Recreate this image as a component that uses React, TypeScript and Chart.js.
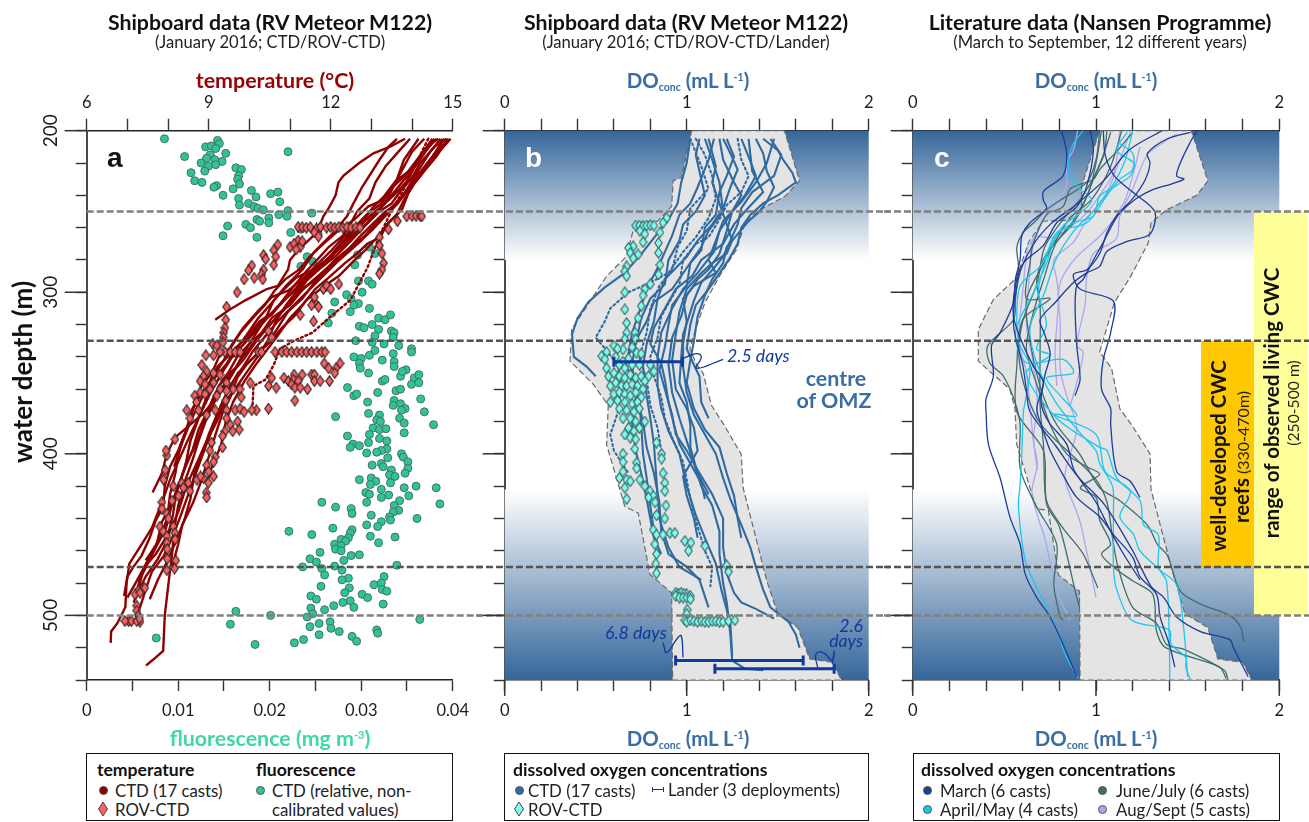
import React, { useEffect, useRef } from "react";
import { Chart, registerables } from "chart.js";

Chart.register(...registerables);

// ---------- axis ticks ----------
const depthMajor = [200, 300, 400, 500];
const tempLabels = [6, 9, 12, 15];
const fluoLabels = [0, 0.01, 0.02, 0.03, 0.04];
const doLabels = [0, 1, 2];

// ---------- reference depths (m) ----------
const refLinesGrey = [250, 500];
const refLinesDark = [330, 470];

// ---------- panel a: fluorescence [value, depth] ----------
const fluorescence = [
  [.0085,205],[.0143,206],[.0145,208],[.0130,210],[.0136,209.5],[.0141,211],[.0107,216],[.0152,214],[.0220,213],[.0135,215],
  [.0131,217],[.0125,220],[.0133,222],[.0140,218],[.0148,219],[.0141,221],[.0129,225],[.0114,226],[.0118,231],[.0126,232],
  [.0163,223],[.0169,224],[.0166,228],[.0165,230],[.0167,233],[.0142,234],[.0139,235],[.0160,236],[.0149,240],[.0180,237],
  [.0185,241],[.0201,239],[.0209,238],[.0211,244],[.0166,242],[.0167,246],[.0177,245],[.0183,247],[.0187,248],[.0193,249],
  [.0220,249.5],[.0210,252],[.0219,253],[.0246,251],[.0199,254],[.0199,257],[.0186,255],[.0189,256],[.0174,258],[.0179,260],
  [.0154,259],[.0149,265],[.0186,266],[.0223,263],[.0234,261],[.0253,264],[.0309,272],[.0315,276],[.0296,277],[.0241,278],
  [.0234,284],[.0247,281],[.0293,283],[.0308,293],[.0312,295],[.0297,293],[.0301,300],[.0284,301.5],[.0289,304],[.0297,307],
  [.0292,308],[.0288,312],[.0309,310],[.0271,306],[.0268,313],[.0264,319],[.0319,316],[.0326,317],[.0332,314],[.0312,320],
  [.0319,323],[.0298,321],[.0303,322],[.0333,324],[.0336,325],[.0335,328],[.0315,327],[.0312,331],[.0325,332],[.0341,333],
  [.0294,330],[.0355,335],[.0355,337],[.0292,340],[.0300,341],[.0309,339],[.0315,336],[.0323,342],[.0298,344],[.0299,347],
  [.0335,338],[.0336,343],[.0336,346],[.0308,350],[.0349,348],[.0343,352],[.0345,349],[.0358,353],[.0363,351],[.0363,356],
  [.0355,357],[.0323,355],[.0326,354],[.0285,359],[.0292,364],[.0295,363],[.0318,362],[.0338,361],[.0343,360],[.0307,368],
  [.0336,367],[.0335,370],[.0343,369],[.0348,372],[.0344,373],[.0365,366],[.0369,374],[.0379,382],[.0308,375],[.0320,376],
  [.0272,377],[.0342,378],[.0347,381],[.0317,379],[.0321,380],[.0313,384],[.0320,385],[.0327,384.5],[.0347,387],[.0309,388],
  [.0285,389],[.0320,390.5],[.0328,392],[.0308,393],[.0291,394],[.0298,395],[.0288,396],[.0328,397],[.0322,398],[.0317,399],
  [.0306,399.5],[.0344,400],[.0346,402],[.0329,402.5],[.0351,405],[.0312,407],[.0322,406],[.0324,408],[.0333,410],[.0351,409],
  [.0348,412],[.0331,413],[.0337,414],[.0298,416],[.0311,415],[.0316,417],[.0310,419],[.0332,418],[.0347,421],[.0360,420],
  [.0382,421],[.0322,422],[.0305,424],[.0309,425],[.0330,425.5],[.0322,427],[.0352,426],[.0342,429],[.0306,430],[.0257,430],
  [.0386,431],[.0336,432],[.0272,433],[.0289,434],[.0290,437],[.0341,435],[.0335,436],[.0311,438],[.0331,439],[.0332,441],
  [.0361,440],[.0322,442],[.0306,444],[.0318,445],[.0269,446],[.0290,447],[.0221,448],[.0246,450],[.0288,449],[.0310,451],
  [.0286,452],[.0337,451.5],[.0278,453],[.0283,454],[.0319,455],[.0271,456],[.0278,457],[.0272,459],[.0278,460],[.0255,461],
  [.0289,463],[.0298,462.5],[.0244,465],[.0281,466],[.0251,467],[.0339,469],[.0236,470],[.0271,469.5],[.0257,471],[.0279,472],
  [.0260,475],[.0325,476],[.0286,477],[.0279,478],[.0314,481],[.0322,480],[.0256,482],[.0287,483],[.0323,484],[.0328,485],
  [.0282,486],[.0245,488],[.0301,487],[.0307,489],[.0251,490],[.0288,491],[.0280,492],[.0324,493],[.0270,494],[.0292,495],
  [.0245,495.5],[.0260,496.5],[.0163,497.5],[.0247,499],[.0201,500],[.0241,501],[.0364,502.5],[.0266,504],[.0254,505],[.0157,505.5],
  [.0244,507],[.0267,508],[.0317,509],[.0318,511],[.0276,510],[.0254,512],[.0290,513],[.0076,514],[.0295,516],[.0237,515],
  [.0227,517],[.0184,518],
];

// ---------- panel a: ROV-CTD temperature [value, depth] ----------
const rovTemperature = [
  [13.87,253],[14.0,252.7],[14.1,252.7],[14.2,252.7],[14.24,253],[13.64,256],
  [11.2,259.6],[11.3,259.8],[11.4,260],[11.5,259.8],[11.65,260.5],[11.75,259.5],[11.9,260],[12.0,259.6],[12.1,260],[12.2,259.7],[12.3,260],[12.4,259.6],[12.5,260],[12.62,259.8],[12.72,260],
  [13.42,261],[13.2,266],[13.2,271],[13.26,276],[13.3,282],[13.26,286],[13.2,288.5],[11.6,263],[11.7,265.5],
  [11.2,268],[11.0,272],[11.25,272],[11.1,270],[11.3,268.5],[11.15,273.5],[10.7,270.5],[10.6,274],[10.35,277],[10.4,279.5],[10.65,278],[10.6,283],[10.06,283.5],[9.98,286.5],[9.87,292],[10.12,291],[10.35,286],[10.3,289],[10.33,292],[9.7,300],[9.44,309],[9.42,317],[9.4,322],[9.37,325],[9.36,328],[9.1,332],[9.2,333],[9.35,331],
  [11.82,298],[11.9,296],[12.2,295],[12.0,298],[11.6,306],[11.53,308],[11.7,309],[11.6,303],[11.25,314],[11.58,318],[10.47,324],[10.55,328],
  [9.4,337],[9.53,337],[9.65,337],[9.77,337],[10.22,337],[10.3,337],[10.63,337],[10.8,337],[10.92,337],[11.04,337],[11.17,337],[11.29,337],[11.41,337],[11.53,337],[11.66,337],[11.78,337],[11.86,337],
  [11.84,344],[11.95,347],[12.23,344],[12.13,347],[12.1,350],[11.1,351],[11.3,351],[11.53,351],[11.6,351],[11.6,355],[11.74,355],[11.97,355],
  [10.85,353],[10.96,355],[11.08,354],[11.2,355],[11.04,357],[11.12,359],[11.25,359],[11.43,360],[11.12,367],[10.55,353],[10.47,358],[10.66,359],[10.02,356],
  [8.93,339],[8.83,345],[9.12,339],[9.28,337],[8.95,349],[9.12,350],[9.28,351],[8.87,352],[8.79,355],[8.91,357],[9.12,356],[9.44,356],[9.6,360],[9.77,360],[9.28,360],[9.03,360],[9.2,364],[9.44,361],[8.79,362],[8.66,364],[8.91,363],[8.7,368],[8.46,373],[8.54,378],[8.75,373],[8.95,376],[9.16,373],[9.42,367],[9.44,373],[9.65,373],[9.8,365],[9.77,372],[9.87,374],[10.17,373],[10.06,373],[10.47,372],
  [9.44,378],[9.71,380],[9.53,382],[9.4,386],[9.34,389],[9.59,386],[9.75,385],[9.34,396],[9.07,393],[9.03,398],[9.16,402],[9.12,405],[8.95,407],[9.0,411],[9.12,414],[8.87,415],[8.71,416],[8.8,414],[8.99,418],[8.94,424],[8.95,427],
  [7.97,401],[7.95,398],[8.17,391],[7.93,410],[7.89,416],[7.85,430],[7.85,434],
  [8.34,418],[8.5,418],[8.38,421],[8.54,423],[8.13,420],[8.26,426],[8.1,429],[7.97,437],[8.01,440],[7.8,445],[7.88,448],[8.13,445],[8.17,449],[7.97,451],[8.17,453],[7.97,455],[7.98,459],[7.98,465],[8.19,466],[8.16,471],[7.97,472],
  [7.35,484],[7.27,484.5],[7.43,483],[7.19,487],[7.31,486],[7.23,494],[7.23,497],[7.27,500],[7.31,504],[7.03,503.5],[7.1,503.5],[7.23,503.5],[6.94,503.5],[7.3,502],
];

// ---------- panel a: CTD temperature casts [value, depth] ----------
const tempCast01 = [[14.9,205],[14.62,213],[14.35,222],[14.1,230],[13.78,240],[13.45,250],[13.1,258],[12.85,265],[12.4,274],[12.05,282],[11.55,293],[11.2,301],[10.85,311],[10.5,320],[10.15,331],[9.85,342],[9.5,352],[9.2,365],[8.95,378],[8.75,392],[8.6,404],[8.4,418],[8.25,432],[8.15,447],[8.1,462],[8.05,472],[7.98,487],[7.92,500],[7.88,522],[7.7,526],[7.46,531]];
const tempCast02 = [[14.55,205],[14.3,214],[14.02,224],[13.72,233],[13.4,243],[13.05,253],[12.7,262],[12.3,271],[11.9,280],[11.45,289],[11.05,300],[10.65,310],[10.3,320],[9.9,331],[9.55,341],[9.3,351],[9.05,362],[8.8,375],[8.55,388],[8.3,402],[8.05,416],[7.85,430],[7.6,446],[7.3,458],[7.05,468],[6.98,480],[6.95,495],[6.75,505],[6.6,510],[6.59,517]];
const tempCast03 = [[14.8,205],[14.5,216],[14.25,224],[13.95,235],[13.65,245],[13.3,254],[13.0,262],[12.6,271],[12.25,279],[11.85,289],[11.45,299],[11.05,309],[10.7,318],[10.4,327],[10.1,336],[9.85,346],[9.55,357],[9.3,370],[9.1,384],[8.9,397],[8.7,411],[8.5,425],[8.3,439],[8.1,452],[7.9,463],[7.6,473],[7.45,484],[7.3,496]];
const tempCast04 = [[14.95,205],[14.7,212],[14.42,221],[14.2,228],[13.9,237],[13.55,246],[13.3,252],[12.95,262],[12.75,268],[12.3,278],[11.95,285],[11.6,294],[11.3,304],[10.95,312],[10.65,324],[10.35,334],[10.0,343],[9.72,350],[9.45,362],[9.2,376],[9.0,388],[8.85,400],[8.65,412],[8.55,428],[8.4,441],[8.18,455],[7.95,468],[7.75,478],[7.55,490]];
const tempCast05 = [[13.83,205],[13.45,210],[13.05,214],[12.7,220],[12.31,228],[12.19,232],[12.12,240],[11.95,248],[11.82,253],[11.66,263],[11.2,274],[11.0,280],[10.95,286],[10.7,296],[10.43,298],[9.9,305],[9.5,311],[9.16,317]];
const tempCast06 = [[13.63,205],[13.42,210],[13.2,218],[12.77,235],[12.56,245],[12.4,253],[12.07,263],[11.6,275],[11.3,286],[10.9,296],[10.6,305],[10.4,316],[10.1,328],[9.85,338],[9.6,350],[9.35,360],[8.87,375],[8.17,390],[7.97,400],[7.85,412],[7.62,424]];
const tempCast07 = [[14.16,205],[13.8,218],[13.63,230],[13.38,243],[13.1,251],[12.56,261],[11.9,280],[11.5,290],[11.2,298],[10.9,308],[10.65,318],[10.45,330],[10.2,340],[9.95,349],[9.7,358],[9.4,368],[9.2,380],[8.95,392],[8.72,405],[8.45,420],[8.25,436],[8.02,449],[7.7,462],[7.42,470],[7.2,480],[7.0,489]];
const tempCast08 = [[14.4,205],[14.1,220],[13.8,236],[13.45,252],[13.2,265],[12.9,285],[12.48,305],[12.0,315],[11.55,325],[11.1,330],[10.75,335],[10.6,345],[10.4,354],[10.1,358],[10.08,370]];
const tempCast09 = [[14.7,205],[14.45,213],[14.12,226],[13.88,236],[13.6,246],[13.35,250],[13.1,256],[12.7,266],[12.45,273],[12.1,280],[11.7,291],[11.35,297],[11.0,308],[10.55,316],[10.3,325],[10.0,332],[9.7,340],[9.5,349],[9.25,358],[9.0,372],[8.75,385],[8.6,398],[8.4,410],[8.2,424],[8.12,438],[7.95,455],[7.75,465],[7.45,476],[7.15,492]];
const tempCast10 = [[14.85,205],[14.55,210],[14.2,220],[14.0,229],[13.7,238],[13.5,245],[13.2,250],[12.8,260],[12.5,268],[12.15,277],[11.75,285],[11.4,293],[11.15,302],[10.75,313],[10.45,322],[10.15,330],[9.9,338],[9.65,347],[9.35,354],[9.1,366],[8.88,380],[8.68,395],[8.45,405],[8.3,417],[8.1,431],[7.95,446],[7.7,458],[7.5,468],[7.3,478],[7.2,490]];
const tempCast11 = [[14.6,205],[14.35,212],[14.08,222],[13.85,232],[13.55,240],[13.2,248],[12.9,254],[12.6,263],[12.25,270],[11.98,278],[11.55,287],[11.25,296],[10.9,304],[10.6,312],[10.25,318],[9.95,327],[9.65,335],[9.45,344],[9.15,353],[8.95,365],[8.75,378],[8.55,392],[8.42,408],[8.25,420],[8.05,433],[7.85,442],[7.72,456],[7.45,466]];
const tempCast12 = [[14.75,205],[14.48,219],[14.15,227],[13.92,238],[13.75,249],[13.42,257],[13.15,266],[12.85,274],[12.55,281],[12.2,290],[11.85,296],[11.4,305],[11.1,315],[10.8,322],[10.5,331],[10.2,338],[9.95,344],[9.7,353],[9.55,364],[9.35,374],[9.18,387],[9.0,402],[8.8,418],[8.62,430],[8.35,444],[8.25,456],[8.1,470]];
const tempCast13 = [[14.5,205],[14.2,216],[13.98,224],[13.6,231],[13.3,241],[13.02,248],[12.75,257],[12.35,265],[12.02,274],[11.7,282],[11.3,292],[10.95,299],[10.55,303],[10.2,312],[9.85,322],[9.58,332],[9.35,343],[9.12,352],[8.9,360],[8.6,372],[8.45,385],[8.25,398],[8.05,408],[7.92,420],[7.88,433],[7.7,441],[7.55,452],[7.35,463],[7.15,470],[7.0,476],[6.92,488]];
const tempCast14 = [[13.95,205],[13.7,212],[13.35,222],[13.1,232],[12.95,242],[12.65,250],[12.5,257],[12.3,265],[11.95,272],[11.7,279],[11.4,287],[11.1,296],[10.85,304],[10.55,314],[10.3,318],[10.05,326],[9.85,332]];
const tempCast15 = [[14.3,205],[14.0,213],[13.72,226],[13.48,237],[13.25,245],[12.88,252],[12.62,259],[12.35,270],[12.1,276],[11.85,283],[11.4,288],[11.15,291],[10.78,300],[10.5,308],[10.22,316],[10.0,324],[9.75,333],[9.5,339],[9.22,346],[9.05,354],[8.8,367],[8.55,380],[8.35,393],[8.15,408]];
const tempCast16 = [[14.88,205],[14.6,216],[14.3,225],[14.05,233],[13.8,243],[13.62,252],[13.38,258],[13.22,266],[12.9,270],[12.65,276],[12.35,282],[11.95,291],[11.62,298],[11.3,308],[11.0,316],[10.72,326],[10.42,336],[10.15,345],[9.88,355],[9.6,368],[9.42,380],[9.3,395],[9.08,408],[8.95,418]];
const tempCast17 = [[14.65,205],[14.4,209],[14.15,217],[13.82,228],[13.52,235],[13.28,243],[12.92,247],[12.58,255],[12.18,262],[11.82,270],[11.48,278],[11.22,286],[10.88,292],[10.62,299],[10.38,308],[10.12,315],[9.78,325],[9.55,334],[9.25,340],[9.08,350],[8.82,358],[8.65,370],[8.48,383],[8.3,395],[8.18,412],[8.05,425],[7.98,440],[7.8,452],[7.62,460],[7.4,471],[7.28,483]];
const tempCasts = [tempCast01,tempCast02,tempCast03,tempCast04,tempCast05,tempCast06,tempCast07,tempCast08,tempCast09,tempCast10,tempCast11,tempCast12,tempCast13,tempCast14,tempCast15,tempCast16,tempCast17];
const dottedTempCasts = [tempCast08];

// ---------- panel b: envelope [DO, depth] ----------
const envelopeB = [[1.027,200],[1.537,200],[1.62,231],[1.54,240.6],[1.384,250],[1.32,257],[1.274,273.5],[1.18,290],[1.10,306.5],[1.054,321],[1.017,335],[1.054,344.6],[1.09,350],[1.136,370],[1.21,383],[1.30,400.4],[1.31,421],[1.44,478.6],[1.50,499],[1.61,507.5],[1.676,527],[1.80,529],[1.85,540],[.923,540],[.917,486],[.798,474.6],[.734,436.7],[.66,432.6],[.56,394.4],[.569,370],[.487,357],[.359,342.6],[.368,323],[.44,310.6],[.56,290],[.67,277.7],[.716,257],[.84,256],[.917,246.8],[.926,231],[.972,229],[1.027,200]];
const envelopeC = [[1.02,200],[1.52,200],[1.61,231],[1.55,240],[1.385,249],[1.30,257],[1.285,269.5],[1.19,290],[1.10,306.5],[1.02,337],[1.085,347],[1.13,372],[1.2,383],[1.295,400],[1.30,422],[1.41,470],[1.485,499],[1.61,507.5],[1.665,527],[1.80,529],[1.85,540],[.913,540],[.91,485],[.795,475],[.74,435],[.675,434],[.567,394],[.558,372],[.53,360],[.358,342.6],[.358,323],[.44,304.5],[.567,291],[.632,269],[.713,256],[.84,255.5],[.922,248],[.922,234],[1.02,200]];

// ---------- panel b: CTD oxygen casts [DO, depth] ----------
const doCast01 = [[1.42,205],[1.5,212],[1.53,218],[1.58,226],[1.6,232],[1.5,240],[1.42,245],[1.35,252],[1.3,260],[1.28,270],[1.23,280],[1.17,290],[1.12,298],[1.05,308],[1.02,320],[1.0,335],[1.04,345],[1.07,352],[1.08,368],[1.12,378]];
const doCast02 = [[1.02,205],[1.0,220],[.97,232],[.95,245],[.9,255],[.85,262],[.76,275],[.66,288],[.55,297],[.46,306],[.40,316],[.37,326],[.38,340],[.45,346],[.50,352]];
const doCast03 = [[1.05,205],[1.1,215],[1.14,228],[1.16,242],[1.12,254],[1.05,266],[.98,275],[.9,288],[.8,294],[.68,300],[.58,310],[.55,318],[.5,328],[.56,336],[.62,345],[.64,360],[.62,375],[.58,388],[.6,398],[.68,412]];
const doCast04 = [[1.1,205],[1.14,218],[1.18,232],[1.2,250],[1.12,262],[1.08,272],[1.0,285],[.92,298],[.82,306],[.78,318],[.72,330],[.7,345],[.72,362],[.76,380],[.78,396],[.82,412],[.85,430],[.86,448],[.9,462],[1.0,470],[1.07,478],[1.12,495]];
const doCast05 = [[1.18,205],[1.2,218],[1.26,232],[1.3,240],[1.24,252],[1.18,262],[1.15,275],[1.06,288],[.98,298],[.92,310],[.86,325],[.84,340],[.84,358],[.86,372],[.9,386],[.96,400],[1.0,420],[1.05,438],[1.1,452],[1.16,468],[1.19,484],[1.24,505],[1.25,525]];
const doCast06 = [[1.3,205],[1.34,216],[1.38,228],[1.32,240],[1.25,250],[1.22,262],[1.18,276],[1.12,286],[1.06,292],[1.0,302],[.97,315],[.92,328],[.9,345],[.92,362],[.96,378],[1.0,392],[1.04,406],[1.08,420],[1.14,432],[1.18,448],[1.18,462],[1.2,480],[1.22,492],[1.24,512],[1.25,528],[1.32,533],[1.42,534]];
const doCast07 = [[1.38,205],[1.42,214],[1.44,225],[1.48,235],[1.44,244],[1.4,250],[1.34,256],[1.28,264],[1.22,272],[1.2,282],[1.14,292],[1.1,302],[1.06,315],[1.04,330],[1.02,342],[1.0,356],[1.04,372],[1.1,385],[1.18,396],[1.22,412],[1.26,426],[1.28,440],[1.3,452]];
const doCast08 = [[1.2,205],[1.24,214],[1.28,224],[1.24,235],[1.2,248],[1.14,258],[1.06,268],[1.0,278],[.94,285],[.88,292],[.84,304],[.82,318],[.78,332],[.76,346],[.78,364],[.8,378],[.82,394],[.83,410],[.84,425],[.85,440],[.9,458],[.96,470],[1.02,474],[1.08,478]];
const doCast09 = [[1.28,205],[1.3,218],[1.34,228],[1.3,238],[1.22,246],[1.18,255],[1.12,266],[1.05,270],[.98,280],[.96,295],[.92,303],[.86,315],[.84,328],[.8,340],[.82,352],[.86,365],[.88,378],[.92,390],[.98,405],[1.0,416],[1.02,428],[1.06,445],[1.1,460],[1.14,470],[1.13,482]];
const doCast10 = [[1.07,205],[1.05,215],[1.08,230],[1.1,240],[1.05,250],[.98,258],[.96,268],[.9,280],[.88,295],[.8,304],[.75,316],[.72,332],[.66,342],[.7,355],[.74,368],[.75,382],[.76,400],[.78,415],[.8,432],[.82,448],[.84,456]];
const doCast11 = [[1.12,205],[1.16,222],[1.14,232],[1.18,245],[1.22,258],[1.25,268],[1.22,276],[1.14,282],[1.08,288],[1.0,298],[.96,312],[.94,326],[.92,342],[.94,360],[1.0,372],[1.04,384],[1.06,398],[1.02,406],[.98,414],[1.0,426],[1.04,440],[1.06,452]];
const doCast12 = [[1.48,205],[1.44,220],[1.38,232],[1.3,244],[1.2,256],[1.16,268],[1.12,280],[1.16,288],[1.04,296],[.98,304],[1.0,318],[.98,332],[.98,346],[1.0,362],[1.04,376],[1.1,388],[1.16,400],[1.2,415],[1.24,428],[1.3,444],[1.35,458],[1.38,470],[1.42,484],[1.46,495],[1.56,504],[1.6,512],[1.62,520]];
const doCast13 = [[1.15,205],[1.12,218],[1.06,235],[1.02,245],[.96,252],[.92,265],[.88,275],[.84,285],[.78,298],[.74,312],[.7,325],[.68,338],[.7,350],[.72,365],[.7,382],[.72,398],[.75,412],[.78,428],[.8,440],[.82,452],[.86,462]];
const doCast14 = [[1.22,205],[1.26,216],[1.22,228],[1.18,238],[1.16,252],[1.1,260],[1.08,274],[1.02,282],[1.0,296],[.92,308],[.9,320],[.88,334],[.85,348],[.88,360],[.92,376],[.94,388],[1.0,398],[1.06,410],[1.14,425],[1.2,440],[1.2,458],[1.22,474],[1.26,486],[1.3,492],[1.38,496],[1.48,502]];
const doCast15 = [[1.34,205],[1.36,225],[1.42,238],[1.32,250],[1.26,258],[1.2,270],[1.08,280],[1.03,290],[.94,298],[.88,310],[.82,322],[.8,332],[.86,344],[.88,354],[.9,368],[.93,382],[.96,394],[1.03,408],[1.08,418],[1.1,428]];
const doCast16 = [[1.02,205],[1.08,222],[1.12,236],[1.02,248],[1.0,262],[.95,272],[.92,286],[.85,296],[.8,310],[.78,325],[.74,340],[.78,354],[.8,370],[.84,384],[.86,398]];
const doCast17 = [[1.46,205],[1.52,215],[1.48,228],[1.36,238],[1.3,248],[1.28,258],[1.24,268],[1.2,278],[1.15,285],[1.08,294],[1.04,305],[1.01,316],[.98,326],[.97,340],[.96,356],[1.0,368],[1.02,382],[1.02,396],[1.06,412],[1.12,425]];
const doCasts = [doCast01,doCast02,doCast03,doCast04,doCast05,doCast06,doCast07,doCast08,doCast09,doCast10,doCast11,doCast12,doCast13,doCast14,doCast15,doCast16,doCast17];
const dottedDoCasts = [doCast03, doCast09, doCast16];

// ---------- panel b: ROV-CTD oxygen [DO, depth] ----------
const rovOxygen = [
  [.72,258.7],[.74,258.7],[.76,259],[.78,258.7],[.80,258.5],[.82,258.7],[.89,254],[.87,257],[.853,263],[.845,269.5],[.845,275.6],[.853,283],[.845,289],[.80,295],[.77,298],[.76,302],[.75,308.5],
  [.743,262],[.77,264],[.76,269],[.706,271.5],[.68,272.5],[.69,275.6],[.733,276.6],[.706,279],[.67,284],[.66,287],[.67,290],[.66,300],[.66,310.6],[.67,319],[.733,316],[.716,325],[.67,325],[.66,329],
  [.533,339.5],[.56,337],[.56,347],[.55,341.5],[.6,333],[.65,335.4],[.725,337.4],[.75,338],[.68,341],[.65,343],[.62,335],[.7,334],[.72,329],[.61,340],[.63,345],[.66,347],[.7,345],[.74,345],[.8,345],[.82,349],[.79,352],
  [.57,352],[.6,350],[.63,352],[.66,353],[.69,351],[.72,353],[.75,352],[.77,355],[.58,358],[.61,356],[.64,358],[.67,358],[.7,357],[.73,358],[.76,360],[.6,363],[.63,362],[.66,363],[.69,364],[.72,362],[.75,365],[.58,368],[.62,367],[.66,368],[.7,369],[.73,368],[.63,372],[.67,373],[.71,374],[.74,372],
  [.65,378],[.69,378],[.72,380],[.77,380],[.68,384],[.71,386],[.74,384],[.66,388],[.69,390],[.72,391],[.715,397],[.65,400],[.65,405],[.65,411],[.63,415],[.67,416],[.69,417],[.66,421],[.67,428],[.725,405.5],[.725,409],[.743,416],[.77,420],[.798,423],[.816,426],[.79,427],[.826,430],[.886,432],[.834,438],[.88,440],[.816,447],[.834,450],[.87,450],[.908,449],[.935,449],[.99,454],[1.023,455],[1.01,460],[1.1,457],[.825,456],[.834,462],[.83,468],[.834,474],[1.22,469],[1.23,473],[.87,412],[.88,418],[.88,423],[.834,393],[.862,400],[.862,403],
  [.94,486],[.955,486.5],[.97,486],[.985,486.5],[1.0,487],[.94,488],[.96,489],[.98,489],[1.0,489],[1.02,488],[1.02,490],[1.003,496.5],[1.0,499],
  [.99,503],[1.0,504],[1.02,503],[1.04,503.5],[1.06,504],[1.08,503.5],[1.1,504],[1.12,504],[1.14,503.5],[1.16,503.5],[1.18,504],[1.2,504],[1.23,503.5],[1.265,503],
];

// ---------- panel b: lander deployments, annotation connectors [DO, depth] ----------
const landerBars = [[[.6,343],[.977,343]],[[.939,528],[1.64,528]],[[1.155,533],[1.81,533]]];
const connectors = [
  [[.98,341],[1.054,338],[1.08,340],[1.054,347],[1.2,341.5]],
  [[.87,517],[.89,523],[.95,514],[.97,512.6],[.98,526]],
  [[1.72,532.6],[1.71,524],[1.75,523],[1.8,528],[1.81,522],[1.8,530]],
];

// ---------- panel c: literature casts [DO, depth] ----------
const marchCasts = [
  [[.813,200],[.84,214],[.82,228],[.713,237.5],[.713,243],[.73,248],[.64,257],[.595,265],[.586,280],[.56,292],[.55,306.5],[.477,325],[.43,333],[.44,352],[.40,366],[.40,373.6],[.413,394],[.477,415],[.53,439],[.586,456],[.614,474.5],[.677,489],[.75,501],[.82,518],[.895,538]],
  [[.968,200],[.986,212],[.95,234],[.895,247],[.786,257],[.713,271],[.604,282],[.56,296],[.55,315],[.604,333],[.66,346],[.713,356],[.677,372],[.713,386],[.75,398],[.82,413],[.895,427],[1.02,439],[1.095,450],[1.2,464],[1.24,476],[1.33,487],[1.35,501],[1.4,518],[1.43,532]],
  [[1.55,200],[1.51,208],[1.46,220],[1.44,228],[1.48,230],[1.41,233],[1.31,236.5],[1.22,242],[1.13,251],[1.095,257],[1.04,269],[.986,280],[.93,292],[.895,296],[.886,308],[.895,333],[.913,354],[.886,364]],
  [[1.515,201],[1.39,205],[1.28,214],[1.295,220],[1.27,230],[1.2,242],[1.11,253],[1.06,263],[1.02,276],[.95,286],[.877,289],[.913,298],[1.095,305.5],[1.08,325],[1.04,341.5],[1.03,360],[1.08,372],[1.08,382],[1.113,411],[1.187,417],[1.24,427]],
  [[1.04,200],[1.05,215],[1.1,228],[1.2,238],[1.32,250],[1.295,264],[1.17,268.5],[1.06,274.6],[1.02,284],[.95,288],[.877,294],[.78,306],[.695,317],[.72,326],[.75,338],[.72,352],[.7,368],[.74,380],[.84,394],[.88,410],[1.0,430],[1.08,448],[1.15,462],[1.24,478]],
  [[1.36,200],[1.18,212],[1.05,230],[.9,245],[.75,258],[.65,272],[.58,290],[.55,320],[.6,345],[.62,360],[.64,374],[.78,395],[.9,414],[1.05,432],[1.2,460],[1.3,482],[1.37,489],[1.44,501],[1.57,510],[1.73,515],[1.75,520],[1.83,538]],
];
const aprilCasts = [
  [[.93,200],[.877,208],[.85,218],[.86,228],[.914,236],[.977,243],[.914,251],[.82,259],[.73,276],[.695,284],[.586,296],[.568,321],[.586,333],[.64,346],[.61,370],[.604,373.6],[.595,400],[.586,419],[.577,433],[.614,466],[.677,483],[.75,499],[.84,526],[.904,539]],
  [[1.17,201],[1.11,212],[1.205,220],[1.187,228],[1.11,234],[1.02,240.6],[.986,253],[.877,257],[.786,265],[.73,282],[.66,300],[.56,325],[.62,343.6],[.82,341.5],[.877,350],[.73,353],[.805,364],[.895,376.5],[.77,375.6],[1.0,388],[1.05,411],[1.187,423],[1.13,439],[1.205,450],[1.24,460],[1.35,472],[1.44,481],[1.478,507.5],[1.5,538]],
  [[1.13,208],[1.2,214],[1.2,224],[1.13,230],[1.06,240],[.95,257],[.786,263],[.72,282],[.686,300],[.73,320],[.676,335],[.75,339],[.62,350],[.786,378],[1.02,396],[1.06,398],[1.113,415],[1.24,429],[1.26,444],[1.34,450],[1.34,470],[1.385,479],[1.4,518],[1.403,540]],
  [[1.2,200],[1.16,218],[1.1,232],[1.0,248],[.88,262],[.78,280],[.72,300],[.64,322],[.68,345],[.78,368],[.92,388],[1.0,398],[1.02,406],[1.09,420],[1.095,435],[1.095,470],[1.113,484],[1.195,503],[1.40,509],[1.41,518],[1.49,526],[1.49,532],[1.515,540]],
];
const juneCasts = [
  [[1.02,200],[1.0,218],[.95,232],[.805,243],[.73,249],[.66,257],[.604,263],[.568,272],[.577,284],[.56,305],[.55,317],[.41,333],[.42,343.6],[.495,352],[.558,368],[.586,382],[.586,409],[.677,433],[.786,456],[.77,481],[.805,501],[.82,503]],
  [[1.2,201],[1.12,212],[1.02,224],[.986,230],[.86,236],[.82,247],[.73,252],[.66,269],[.64,282],[.62,304],[.75,304],[.6,317],[.568,346],[.568,374],[.713,398],[.73,429],[.82,446],[.93,462],[1.01,483]],
  [[1.08,201],[1.04,215],[.986,230],[.93,246],[.877,257],[.73,276],[.677,292],[.695,308.5],[.695,337],[.695,370],[.713,394],[.73,431],[.8,445],[.895,489],[.91,495]],
  [[1.03,200],[1.0,220],[.96,238],[.88,255],[.78,270],[.72,290],[.66,312],[.62,335],[.68,358],[.75,382],[.84,400],[.95,408],[1.02,412.7],[.914,421],[1.0,427],[1.02,441],[1.08,456],[1.03,462],[1.095,470],[1.2,478.6],[1.31,487],[1.33,509.5],[1.38,520],[1.675,532],[1.71,539]],
  [[1.14,200],[1.08,222],[.98,242],[.86,254],[.78,268],[.7,285],[.62,305],[.64,330],[.7,360],[.786,382],[.91,400],[1.02,421],[1.13,429],[1.28,444],[1.335,456],[1.39,463],[1.46,485],[1.57,493],[1.73,500],[1.79,507.5],[1.805,516]],
  [[1.06,200],[1.04,216],[.93,240],[.84,252],[.72,272],[.68,294],[.6,318],[.58,340],[.62,362],[.7,382],[.88,402],[1.0,416],[1.06,430],[1.09,452],[1.12,470],[1.2,495],[1.33,505],[1.385,518],[1.48,521],[1.7,534],[1.72,540]],
];
const augCasts = [
  [[.9,200],[.877,212],[.84,220],[.84,233],[.79,244],[.72,254],[.66,268],[.63,271],[.6,300],[.58,330],[.62,350],[.64,370],[.66,394],[.68,406],[.65,424],[.68,438],[.72,452],[.79,486],[.86,503]],
  [[1.24,210],[1.2,228],[1.15,245],[1.04,263],[.88,280],[.8,296],[.805,321],[.805,348],[.84,364],[.895,384],[.86,400],[.83,415],[.91,441],[.95,461],[1.0,489]],
  [[1.44,202],[1.37,207],[1.28,215],[1.2,236],[1.13,253],[1.11,267],[.986,276],[.95,290],[.94,308],[.895,333],[.93,337],[.895,356],[.86,370]],
  [[1.187,201],[1.13,218],[1.06,238],[.95,255],[.877,269],[.77,280],[.786,292],[.795,304],[.777,337],[.786,358]],
  [[1.13,200],[1.1,225],[1.02,240],[.94,252],[.77,266],[.66,266],[.64,286],[.62,320],[.66,345],[.68,370],[.66,390],[.68,410]],
];

// ---------- page text ----------
const panelTitles = ["Shipboard data (RV Meteor M122)", "Shipboard data (RV Meteor M122)", "Literature data (Nansen Programme)"];
const panelSubtitles = ["(January 2016; CTD/ROV-CTD)", "(January 2016; CTD/ROV-CTD/Lander)", "(March to September, 12 different years)"];

const colors = {
  ctdRed: "#8f0000", rovRed: "#ff5f5f", green: "#2fc495", greenEdge: "#46716a",
  doBlue: "#2f6aa0", cyan: "#7ffdf0", cyanEdge: "#3f6f6c", lander: "#0f3a9e",
  march: "#1c3c9c", april: "#1cc6ee", june: "#3f6d6d", aug: "#aaa6f4",
  band: "#35669a", title: "#3a6da3",
};
const FONT = "Lato, 'Open Sans', sans-serif";

const pts = (a: number[][]) => a.map(([x, y]) => ({ x, y }));

function makeDiamond(fill: string, stroke: string) {
  const c = document.createElement("canvas");
  c.width = 9; c.height = 12;
  const g = c.getContext("2d")!;
  g.beginPath(); g.moveTo(4.5, .8); g.lineTo(8.2, 6); g.lineTo(4.5, 11.2); g.lineTo(.8, 6); g.closePath();
  g.fillStyle = fill; g.fill(); g.lineWidth = 1.2; g.strokeStyle = stroke; g.stroke();
  return c;
}

function panelPlugin(opts: { envelope?: number[][]; gradient: boolean; boxes: boolean; lineStart: number; xMajorVals: number[]; xMajorScale: string; }) {
  return {
    id: "panelExtras",
    beforeDatasetsDraw(chart: any) {
      const { ctx, chartArea: a, scales } = chart;
      const y = scales.y; const x = scales.xBot;
      ctx.save();
      if (opts.gradient) {
        const y0 = y.getPixelForValue(200), y1 = y.getPixelForValue(280), y2 = y.getPixelForValue(422), y3 = y.getPixelForValue(540);
        let g = ctx.createLinearGradient(0, y0, 0, y1);
        g.addColorStop(0, colors.band); g.addColorStop(1, "#ffffff");
        ctx.fillStyle = g; ctx.fillRect(a.left, y0, a.right - a.left, y1 - y0);
        g = ctx.createLinearGradient(0, y2, 0, y3);
        g.addColorStop(0, "#ffffff"); g.addColorStop(1, colors.band);
        ctx.fillStyle = g; ctx.fillRect(a.left, y2, a.right - a.left, y3 - y2);
      }
      if (opts.envelope) {
        ctx.beginPath();
        opts.envelope.forEach(([v, d], i) => {
          const px = x.getPixelForValue(v), py = y.getPixelForValue(d);
          i ? ctx.lineTo(px, py) : ctx.moveTo(px, py);
        });
        ctx.closePath();
        ctx.fillStyle = "#e4e4e4"; ctx.fill();
      }
      ctx.restore();
    },
    afterDatasetsDraw(chart: any) {
      const { ctx, scales, width } = chart;
      const y = scales.y;
      ctx.save();
      if (opts.boxes) {
        const xOf = (px: number) => px - 884;
        ctx.fillStyle = "#ffff99";
        ctx.fillRect(xOf(1254), y.getPixelForValue(250), 54, y.getPixelForValue(500) - y.getPixelForValue(250));
        ctx.fillStyle = "#ffc800";
        ctx.fillRect(xOf(1201), y.getPixelForValue(330), 53, y.getPixelForValue(470) - y.getPixelForValue(330));
      }
      ctx.lineWidth = 2.5; ctx.setLineDash([7, 3]);
      ctx.strokeStyle = "#808080";
      refLinesGrey.forEach((d) => { const p = y.getPixelForValue(d); ctx.beginPath(); ctx.moveTo(opts.lineStart, p); ctx.lineTo(width, p); ctx.stroke(); });
      ctx.strokeStyle = "#545454";
      refLinesDark.forEach((d) => { const p = y.getPixelForValue(d); ctx.beginPath(); ctx.moveTo(opts.lineStart, p); ctx.lineTo(width, p); ctx.stroke(); });
      ctx.restore();
    },
    afterDraw(chart: any) {
      const { ctx, chartArea: a, scales } = chart;
      ctx.save();
      ctx.strokeStyle = "#333"; ctx.lineWidth = 1.5;
      depthMajor.forEach((d) => {
        const p = scales.y.getPixelForValue(d);
        ctx.beginPath(); ctx.moveTo(a.left - 22, p); ctx.lineTo(a.left, p); ctx.stroke();
      });
      opts.xMajorVals.forEach((v) => {
        const p = scales[opts.xMajorScale].getPixelForValue(v);
        ctx.beginPath(); ctx.moveTo(p, a.bottom); ctx.lineTo(p, a.bottom + 16); ctx.stroke();
      });
      ctx.restore();
    },
  };
}

function axisX(id: "top" | "bottom", min: number, max: number, step: number, labels: number[], size: number) {
  return {
    axis: "x", position: id, type: "linear", min, max,
    afterFit: (s: any) => { s.height = size; },
    afterBuildTicks: (s: any) => {
      const n = Math.round((max - min) / step);
      const out = [];
      for (let i = 0; i <= n; i++) out.push({ value: min + (i * (max - min)) / n });
      s.ticks = out;
    },
    border: { display: true, color: "#222", width: 1.6 },
    grid: { drawOnChartArea: false, drawTicks: true, tickLength: id === "top" ? 12 : 11, tickColor: "#333", tickWidth: 1.4 },
    ticks: {
      autoSkip: false, maxRotation: 0, minRotation: 0, padding: id === "top" ? 6 : 10, color: "#1c1c1c",
      font: { family: FONT, size: 16.5 },
      callback: (v: number) => { const m = labels.find((l) => Math.abs(l - v) < 1e-6); return m === undefined ? "" : String(m); },
    },
  };
}

function axisY(width: number, showLabels: boolean) {
  return {
    position: "left", type: "linear", reverse: true, min: 200, max: 540,
    afterFit: (s: any) => { s.width = width; },
    border: { display: true, color: "#4a4a4a", width: 2 },
    grid: { drawOnChartArea: false, drawTicks: true, tickLength: 11, tickColor: "#333", tickWidth: 1.4 },
    ticks: {
      display: showLabels, stepSize: 20, autoSkip: false, minRotation: 90, maxRotation: 90, crossAlign: "center", padding: 8, color: "#1c1c1c",
      font: { family: FONT, size: 19 },
      callback: (v: number) => (depthMajor.includes(v) ? String(v) : ""),
    },
  };
}

const baseOptions = (scales: any, paddingRight: number) => ({
  responsive: false, animation: false, maintainAspectRatio: false, events: [] as string[],
  layout: { padding: { left: 0, top: 0, bottom: 0, right: paddingRight } },
  plugins: { legend: { display: false }, tooltip: { enabled: false }, title: { display: false } },
  scales,
});

const lineDs = (data: number[][], color: string, width: number, order: number, xAxisID = "xBot", extra: any = {}) => ({
  data: pts(data), showLine: true, borderColor: color, borderWidth: width, pointRadius: 0, order, xAxisID, yAxisID: "y", fill: false, ...extra,
});
const dotted = { borderDash: [2, 3], borderCapStyle: "round" };

function Txt({ x, y, children, style, align = "left" }: any) {
  const tx = align === "center" ? "-50%" : align === "right" ? "-100%" : "0";
  return <div style={{ position: "absolute", left: x, top: y, transform: `translate(${tx},-50%)`, whiteSpace: "nowrap", fontFamily: FONT, color: "#1a1a1a", ...style }}>{children}</div>;
}
function Rot({ x, y, children, style }: any) {
  return <div style={{ position: "absolute", left: x, top: y, transform: "translate(-50%,-50%) rotate(-90deg)", whiteSpace: "nowrap", fontFamily: FONT, color: "#1a1a1a", ...style }}>{children}</div>;
}
const DO = ({ x, y }: any) => (
  <Txt x={x} y={y} align="center" style={{ color: colors.title, fontWeight: 700, fontSize: 20.4 }}>
    DO<sub style={{ fontSize: 10.5, verticalAlign: "-3px" }}>conc</sub> (mL L<sup style={{ fontSize: 10.5, verticalAlign: "7px" }}>-1</sup>)
  </Txt>
);
const Dot = ({ x, y, c, r = 4.5 }: any) => (
  <div style={{ position: "absolute", left: x - r, top: y - r, width: 2 * r, height: 2 * r, borderRadius: "50%", background: c, border: "1px solid #555", boxSizing: "border-box" }} />
);
const Dia = ({ x, y, c }: any) => (
  <svg style={{ position: "absolute", left: x - 6, top: y - 8 }} width={12} height={16}><polygon points="6,1 10.5,8 6,15 1.5,8" fill={c} stroke="#444" strokeWidth={1} /></svg>
);
const LegendBox = ({ l, r }: any) => (
  <div style={{ position: "absolute", left: l, top: 753, width: r - l, height: 68, border: "1.2px solid #111", boxSizing: "border-box", background: "#fff" }} />
);

export default function App() {
  const ra = useRef<HTMLCanvasElement>(null);
  const rb = useRef<HTMLCanvasElement>(null);
  const rc = useRef<HTMLCanvasElement>(null);

  useEffect(() => {
    const redDia = makeDiamond(colors.rovRed, "#352a2a");
    const cyanDia = makeDiamond(colors.cyan, colors.cyanEdge);

    const ca = new Chart(ra.current!, {
      type: "scatter",
      data: {
        datasets: [
          { data: pts(rovTemperature), pointStyle: redDia, xAxisID: "xTop", yAxisID: "y", order: 1 } as any,
          ...tempCasts.map((c) => lineDs(c, colors.ctdRed, 2.4, 2, "xTop", dottedTempCasts.includes(c) ? dotted : {})),
          { data: pts(fluorescence), pointRadius: 4, pointBackgroundColor: colors.green, pointBorderColor: colors.greenEdge, pointBorderWidth: 1, xAxisID: "xBot", yAxisID: "y", order: 3 } as any,
        ],
      },
      options: baseOptions({
        xTop: axisX("top", 6, 15, 1, tempLabels, 130.7),
        xBot: axisX("bottom", 0, 0.04, 0.005, fluoLabels, 142),
        y: axisY(86.7, true),
      }, 29.3) as any,
      plugins: [panelPlugin({ gradient: false, boxes: false, lineStart: 86.7, xMajorVals: [], xMajorScale: "xBot" }) as any],
    });

    const cb = new Chart(rb.current!, {
      type: "scatter",
      data: {
        datasets: [
          ...connectors.map((c) => lineDs(c, colors.lander, 1.3, 1, "xBot", { tension: 0.45 })),
          ...landerBars.map((c) => lineDs(c, colors.lander, 3, 2, "xBot", { pointStyle: "line", rotation: 90, pointRadius: 5, pointBorderWidth: 3, pointBorderColor: colors.lander })),
          { data: pts(rovOxygen), pointStyle: cyanDia, xAxisID: "xBot", yAxisID: "y", order: 3 } as any,
          ...doCasts.map((c) => lineDs(c, colors.doBlue, 2.1, 4, "xBot", dottedDoCasts.includes(c) ? dotted : {})),
          lineDs(envelopeB, "#6a6a6a", 1.2, 9, "xBot", { borderDash: [6, 3] }),
        ],
      },
      options: baseOptions({
        xTop: axisX("top", 0, 2, 0.2, doLabels, 130.7),
        xBot: axisX("bottom", 0, 2, 0.2, doLabels, 142),
        y: axisY(28.7, false),
      }, 21.3) as any,
      plugins: [panelPlugin({ envelope: envelopeB, gradient: true, boxes: false, lineStart: 0, xMajorVals: doLabels, xMajorScale: "xBot" }) as any],
    });

    const smooth = { tension: 0.3 };
    const cc = new Chart(rc.current!, {
      type: "scatter",
      data: {
        datasets: [
          ...marchCasts.map((c) => lineDs(c, colors.march, 1.3, 2, "xBot", smooth)),
          ...aprilCasts.map((c) => lineDs(c, colors.april, 1.3, 3, "xBot", smooth)),
          ...juneCasts.map((c) => lineDs(c, colors.june, 1.3, 4, "xBot", smooth)),
          ...augCasts.map((c) => lineDs(c, colors.aug, 1.3, 5, "xBot", smooth)),
          lineDs(envelopeC, "#6a6a6a", 1.2, 9, "xBot", { borderDash: [6, 3] }),
        ],
      },
      options: baseOptions({
        xTop: axisX("top", 0, 2, 0.2, doLabels, 130.7),
        xBot: axisX("bottom", 0, 2, 0.2, doLabels, 142),
        y: axisY(28.7, false),
      }, 29.7) as any,
      plugins: [panelPlugin({ envelope: envelopeC, gradient: true, boxes: true, lineStart: 0, xMajorVals: doLabels, xMajorScale: "xBot" }) as any],
    });
    return () => { ca.destroy(); cb.destroy(); cc.destroy(); };
  }, []);

  const canvasStyle = (left: number): React.CSSProperties => ({ position: "absolute", left, top: 0 });
  const t1 = { fontWeight: 700, fontSize: 21.3, color: "#111" };
  const t2 = { fontSize: 16.6, color: "#222" };
  const lg = { fontSize: 16.8, color: "#222" };
  const lgb = { fontSize: 17.6, fontWeight: 700, color: "#111" };
  const ann = { color: colors.lander, fontStyle: "italic", fontSize: 17.7 };
  const omz = { color: colors.title, fontWeight: 700, fontSize: 21.4 };
  const letter = { fontFamily: "'Liberation Sans'", fontWeight: 700, fontSize: 28 };

  return (
    <div style={{ position: "absolute", left: 0, top: 0, width: 1309, height: 822, overflow: "hidden", background: "#fff" }}>
      <canvas ref={ra} width={482} height={822} style={canvasStyle(0)} />
      <canvas ref={rb} width={414} height={822} style={canvasStyle(476)} />
      <canvas ref={rc} width={425} height={822} style={canvasStyle(884)} />

      {panelTitles.map((t, i) => <Txt key={i} x={[270, 686, 1100][i]} y={22} align="center" style={t1}>{t}</Txt>)}
      {panelSubtitles.map((t, i) => <Txt key={i} x={[270, 686, 1100][i]} y={42} align="center" style={t2}>{t}</Txt>)}

      <Txt x={275} y={80} align="center" style={{ color: "#990000", fontWeight: 700, fontSize: 21.4 }}>temperature (°C)</Txt>
      <DO x={688} y={80} /><DO x={1096} y={80} />
      <DO x={688} y={738} /><DO x={1096} y={738} />
      <Txt x={270} y={738} align="center" style={{ color: "#3fd6a8", fontWeight: 700, fontSize: 21.4 }}>
        fluorescence (mg m<sup style={{ fontSize: 11, verticalAlign: "7px" }}>-3</sup>)
      </Txt>
      <Rot x={22} y={372} style={{ fontWeight: 700, fontSize: 26, color: "#111" }}>water depth (m)</Rot>

      <Txt x={107} y={158} style={{ ...letter, color: "#111" }}>a</Txt>
      <Txt x={525} y={158} style={{ ...letter, color: "#fff" }}>b</Txt>
      <Txt x={934} y={158} style={{ ...letter, color: "#fff" }}>c</Txt>

      <Txt x={727} y={355} style={ann}>2.5 days</Txt>
      <Txt x={605} y={632} style={ann}>6.8 days</Txt>
      <Txt x={863} y={625} align="right" style={ann}>2.6</Txt>
      <Txt x={863} y={640} align="right" style={ann}>days</Txt>
      <Txt x={836} y={378} align="center" style={omz}>centre</Txt>
      <Txt x={834} y={400} align="center" style={omz}>of OMZ</Txt>

      <Rot x={1218} y={456} style={{ fontWeight: 700, fontSize: 20.3, color: "#111" }}>well-developed CWC</Rot>
      <Rot x={1241} y={457} style={{ fontSize: 16, color: "#222" }}><b style={{ fontSize: 20.3, color: "#111" }}>reefs</b> (330-470m)</Rot>
      <Rot x={1271} y={403} style={{ fontWeight: 700, fontSize: 20.5, color: "#111" }}>range of observed living CWC</Rot>
      <Rot x={1293} y={403} style={{ fontSize: 15.7, color: "#222" }}>(250-500 m)</Rot>

      <LegendBox l={86} r={453} /><LegendBox l={504} r={869} /><LegendBox l={913} r={1280} />

      <Txt x={97} y={769} style={lgb}>temperature</Txt>
      <Dot x={103} y={790} c={colors.ctdRed} /><Txt x={115} y={790} style={lg}>CTD (17 casts)</Txt>
      <Dia x={103} y={809} c={colors.rovRed} /><Txt x={115} y={809} style={lg}>ROV-CTD</Txt>
      <Txt x={256} y={769} style={lgb}>fluorescence</Txt>
      <Dot x={260} y={790} c={colors.green} /><Txt x={272} y={790} style={lg}>CTD (relative, non-</Txt>
      <Txt x={272} y={809} style={lg}>calibrated values)</Txt>

      <Txt x={513} y={769} style={lgb}>dissolved oxygen concentrations</Txt>
      <Dot x={519} y={790} c={colors.doBlue} /><Txt x={528} y={790} style={lg}>CTD (17 casts)</Txt>
      <Dia x={519} y={809} c={colors.cyan} /><Txt x={528} y={809} style={lg}>ROV-CTD</Txt>
      <div style={{ position: "absolute", left: 652, top: 787, width: 12, height: 5, borderLeft: "1.5px solid #1c2f8f", borderRight: "1.5px solid #1c2f8f", boxSizing: "border-box" }}>
        <div style={{ marginTop: 1.5, height: 1.5, background: "#1c2f8f" }} />
      </div>
      <Txt x={668} y={789} style={lg}>Lander (3 deployments)</Txt>

      <Txt x={921} y={769} style={lgb}>dissolved oxygen concentrations</Txt>
      <Dot x={927} y={790} c={colors.march} /><Txt x={940} y={790} style={lg}>March (6 casts)</Txt>
      <Dot x={927} y={809} c={colors.april} /><Txt x={940} y={809} style={lg}>April/May (4 casts)</Txt>
      <Dot x={1102} y={790} c={colors.june} /><Txt x={1116} y={790} style={lg}>June/July (6 casts)</Txt>
      <Dot x={1102} y={809} c={colors.aug} /><Txt x={1116} y={809} style={lg}>Aug/Sept (5 casts)</Txt>
    </div>
  );
}
